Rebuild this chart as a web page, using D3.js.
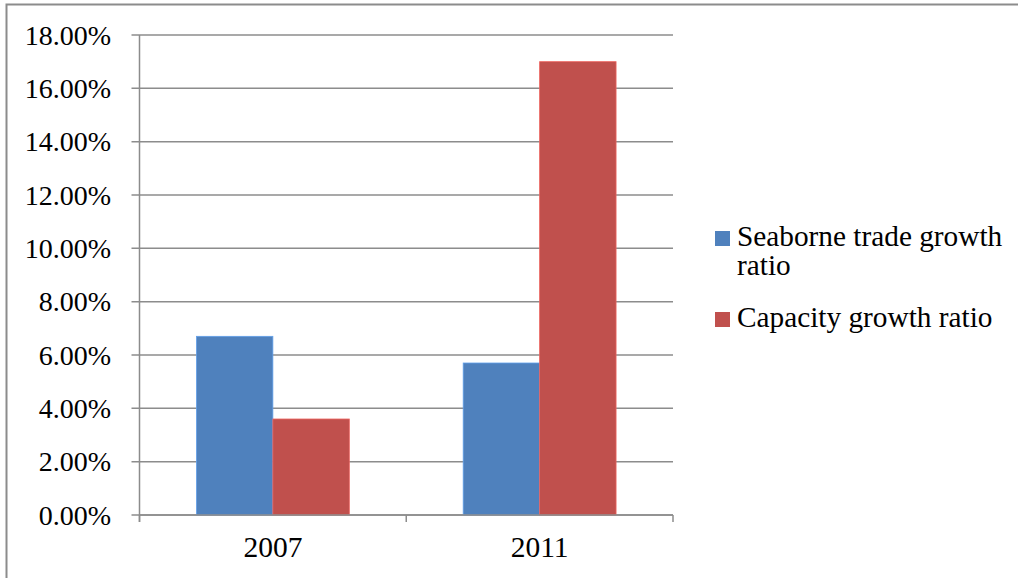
<!DOCTYPE html>
<html>
<head>
<meta charset="utf-8">
<script src="https://cdn.jsdelivr.net/npm/d3@7/dist/d3.min.js"></script>
<style>
  html, body { margin: 0; padding: 0; background: #fff; }
  svg { display: block; }
  text { font-family: "Liberation Serif", "Times New Roman", serif; fill: #000; }
</style>
</head>
<body>
<svg id="chart" width="1018" height="578"></svg>
<script>
// Growth ratios (percent) by year
const years = ["2007", "2011"];
const seriesNames = ["Seaborne trade growth ratio", "Capacity growth ratio"];
const seabornePct = [6.7, 5.7];
const capacityPct = [3.6, 17.0];
const yTicks = [0, 2, 4, 6, 8, 10, 12, 14, 16, 18];
const colors = ["#4f81bd", "#c0504d"];

const svg = d3.select("#chart");
const W = 1018, H = 578;

// outer frame
svg.append("rect")
  .attr("x", 6.5).attr("y", 4.5)
  .attr("width", W + 10).attr("height", H + 10)
  .attr("fill", "none").attr("stroke", "#8c8c8c").attr("stroke-width", 2);

const plot = { left: 139.5, right: 673, top: 35, bottom: 515 };

const y = d3.scaleLinear().domain([0, 18]).range([plot.bottom, plot.top]);
const x0 = d3.scaleBand().domain(years).range([plot.left, plot.right]).paddingInner(0).paddingOuter(0);
const x1 = d3.scaleBand().domain(seriesNames).range([0, x0.bandwidth()]).paddingInner(0).paddingOuter(0.745);

const gridColor = "#8c8c8c";

// horizontal gridlines
svg.append("g")
  .selectAll("line")
  .data(yTicks)
  .join("line")
  .attr("x1", plot.left - 8).attr("x2", plot.right)
  .attr("y1", d => y(d)).attr("y2", d => y(d))
  .attr("stroke", gridColor).attr("stroke-width", 1.5);

// y tick labels
svg.append("g")
  .selectAll("text")
  .data(yTicks)
  .join("text")
  .attr("x", 111)
  .attr("y", d => y(d))
  .attr("dy", "0.34em")
  .attr("text-anchor", "end")
  .attr("font-size", 28)
  .text(d => d.toFixed(2) + "%");

// bars
const rows = years.map((yr, i) => ({ year: yr, values: [seabornePct[i], capacityPct[i]] }));
svg.append("g")
  .selectAll("g")
  .data(rows)
  .join("g")
  .attr("transform", d => `translate(${x0(d.year)},0)`)
  .selectAll("rect")
  .data(d => d.values.map((v, j) => ({ name: seriesNames[j], v, j })))
  .join("rect")
  .attr("x", d => x1(d.name))
  .attr("width", x1.bandwidth())
  .attr("y", d => y(d.v))
  .attr("height", d => y(0) - y(d.v))
  .attr("fill", d => colors[d.j])
  .attr("stroke", d => d3.color(colors[d.j]).brighter(0.6))
  .attr("stroke-width", 0.8);

// y axis line
svg.append("line")
  .attr("x1", plot.left).attr("x2", plot.left)
  .attr("y1", plot.top).attr("y2", plot.bottom + 7)
  .attr("stroke", gridColor).attr("stroke-width", 1.5);

// x axis line and category ticks
svg.append("line")
  .attr("x1", plot.left).attr("x2", plot.right)
  .attr("y1", plot.bottom).attr("y2", plot.bottom)
  .attr("stroke", gridColor).attr("stroke-width", 1.5);

const catEdges = [plot.left, ...years.map(d => x0(d) + x0.bandwidth())];
svg.append("g")
  .selectAll("line")
  .data(catEdges)
  .join("line")
  .attr("x1", d => d).attr("x2", d => d)
  .attr("y1", plot.bottom).attr("y2", plot.bottom + 7)
  .attr("stroke", gridColor).attr("stroke-width", 1.5);

// category labels
svg.append("g")
  .selectAll("text")
  .data(years)
  .join("text")
  .attr("x", d => x0(d) + x0.bandwidth() / 2)
  .attr("y", 557)
  .attr("text-anchor", "middle")
  .attr("font-size", 29.5)
  .text(d => d);

// legend
const legend = [
  { color: colors[0], lines: ["Seaborne trade growth", "ratio"], y: 246 },
  { color: colors[1], lines: ["Capacity growth ratio"], y: 327 }
];
const lg = svg.append("g").selectAll("g").data(legend).join("g");
lg.append("rect")
  .attr("x", 715).attr("y", d => d.y - 15)
  .attr("width", 15).attr("height", 15)
  .attr("fill", d => d.color);
lg.append("text")
  .attr("x", 737).attr("y", d => d.y)
  .attr("font-size", 29.3)
  .selectAll("tspan")
  .data(d => d.lines)
  .join("tspan")
  .attr("x", 737)
  .attr("dy", (d, i) => i === 0 ? 0 : 29)
  .text(d => d);
</script>
</body>
</html>
